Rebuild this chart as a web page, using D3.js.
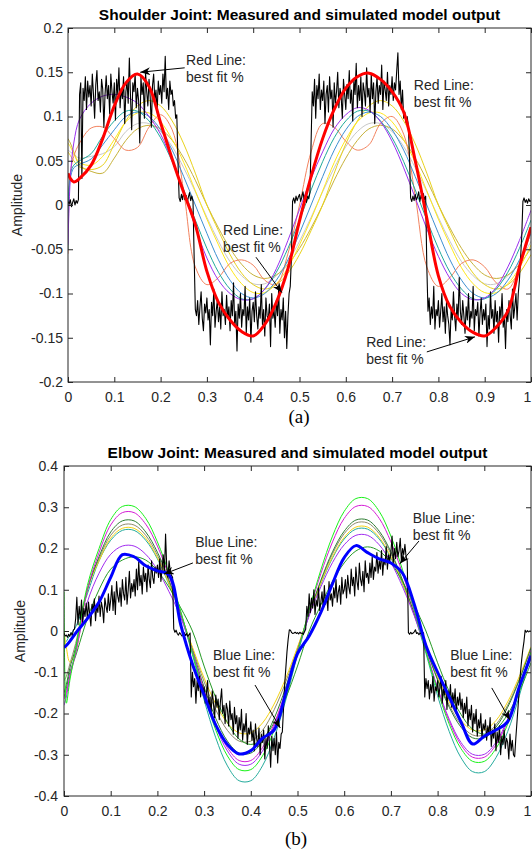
<!DOCTYPE html>
<html>
<head>
<meta charset="utf-8">
<script src="https://cdn.jsdelivr.net/npm/d3@7"></script>
<style>
  body { margin: 0; background: #fff; }
  svg text { font-family: "Liberation Sans", Arial, sans-serif; fill: #262626; }
</style>
</head>
<body>
<svg id="chart" width="532" height="853"></svg>
<script>
// ---- shared axis values ----
const timeTicks = [0, 0.1, 0.2, 0.3, 0.4, 0.5, 0.6, 0.7, 0.8, 0.9, 1];
const shoulderYTicks = [-0.2, -0.15, -0.1, -0.05, 0, 0.05, 0.1, 0.15, 0.2];
const elbowYTicks = [-0.4, -0.3, -0.2, -0.1, 0, 0.1, 0.2, 0.3, 0.4];

// time points of the simulated model outputs
const smoothT = [0, 0.005, 0.0125, 0.025, 0.05, 0.075, 0.1, 0.125, 0.15, 0.175, 0.2, 0.225, 0.25, 0.275, 0.3,
  0.325, 0.35, 0.375, 0.4, 0.425, 0.45, 0.475, 0.5, 0.525, 0.55, 0.575, 0.6, 0.625, 0.65, 0.675, 0.7,
  0.725, 0.75, 0.775, 0.8, 0.825, 0.85, 0.875, 0.9, 0.925, 0.95, 0.975, 1];

// ---- (a) shoulder joint ----
const shoulderRed = [.036, .030, .026, .030, .045, .075, .112, .138, .148, .134, .093, .052, .014, -.022, -.075, -.11, -.13, -.143, -.148, -.135, -.11, -.072, -.018,
  .032, .075, .108, .132, .145, .149, .142, .128, .105, .05, -.015, -.08, -.115, -.133, -.144, -.148, -.138, -.12, -.07, -.025];
const shoulderPurple = [-.045, .03, .07, .097, .115, .123, .125, .122, .115, .1, .08, .05, .015, -.025, -.06, -.085, -.1, -.107, -.106, -.095, -.072, -.04, -.005,
  .03, .06, .086, .102, .11, .107, .094, .072, .042, .008, -.027, -.058, -.083, -.1, -.107, -.105, -.093, -.07, -.04, -.006];
const shoulderTeal = [-.05, .035, .045, .05, .058, .078, .095, .106, .106, .095, .076, .049, .017, -.017, -.049, -.076, -.095, -.106, -.106, -.095, -.076, -.049, -.017,
  .017, .049, .076, .095, .106, .106, .095, .076, .049, .017, -.017, -.049, -.076, -.095, -.106, -.106, -.095, -.076, -.049, -.017];
const shoulderBlue = [0, .03, .042, .046, .052, .068, .085, .1, .105, .1, .085, .062, .032, 0, -.032, -.062, -.085, -.1, -.105, -.1, -.085, -.062, -.032,
  0, .032, .062, .085, .1, .105, .1, .085, .062, .032, 0, -.032, -.062, -.085, -.1, -.105, -.1, -.085, -.062, -.032];
const shoulderYellow = [.07, .066, .058, .048, .045, .055, .074, .094, .104, .104, .094, .074, .048, .016, -.016, -.045, -.071, -.089, -.099, -.099, -.089, -.071, -.045,
  -.016, .016, .048, .074, .094, .104, .104, .094, .074, .048, .016, -.016, -.045, -.071, -.089, -.099, -.099, -.089, -.071, -.045];
const shoulderGold = [.06, .056, .05, .043, .04, .045, .069, .095, .112, .118, .112, .095, .069, .036, 0, -.029, -.056, -.077, -.09, -.095, -.09, -.077, -.056,
  -.029, 0, .036, .069, .095, .112, .118, .112, .095, .069, .036, 0, -.029, -.056, -.077, -.09, -.095, -.09, -.077, -.056];
const shoulderOlive = [.075, .07, .06, .045, .038, .036, .053, .073, .086, .09, .086, .073, .053, .028, 0, -.026, -.049, -.067, -.079, -.083, -.079, -.067, -.049,
  -.026, 0, .028, .053, .073, .086, .09, .086, .073, .053, .028, 0, -.026, -.049, -.067, -.079, -.083, -.079, -.067, -.049];
const shoulderGray = [.062, .06, .057, .053, .055, .058, .066, .083, .092, .092, .083, .066, .042, .015, -.014, -.041, -.064, -.08, -.089, -.089, -.08, -.064, -.041,
  -.014, .015, .042, .066, .083, .092, .092, .083, .066, .042, .015, -.014, -.041, -.064, -.08, -.089, -.089, -.08, -.064, -.041];
const shoulderSalmon = [-.055, .035, .055, .07, .087, .088, .075, .062, .065, .088, .102, .085, .015, -.07, -.09, -.082, -.066, -.062, -.068, -.085, -.09, -.055, 0,
  .06, .092, .088, .072, .062, .068, .092, .1, .08, .01, -.07, -.092, -.082, -.066, -.062, -.07, -.088, -.095, -.07, -.03];

// measured shoulder signal, evenly spaced from t = 0 to t = 1
const shoulderMeasured = [
  .004, .001, .006, -.002, .003, .007, .000, .005, .002, .006, .125, .138, .03, .132, .118, .145, .108, .14, .122, .135,
  .112, .148, .125, .098, .136, .152, .118, .128, .105, .142, .131, .088, .125, .146, .12, .135, .103, .148, .128, .115,
  .138, .096, .142, .125, .155, .11, .132, .12, .145, .092, .128, .14, .115, .166, .122, .085, .138, .128, .148, .11,
  .132, .118, .07, .145, .125, .138, .098, .15, .128, .112, .142, .122, .088, .135, .148, .118, .13, .105, .14, .125,
  .135, .115, .148, .128, .168, .12, .132, .108, .14, .125, .13, .112, .118, .098, .102, .05, .008, .004, .012, .006,
  .015, .006, .011, .003, .009, .014, .005, .01, .004, -.06, -.118, -.125, -.108, -.135, -.115, -.098, -.128, -.142, -.112, -.122,
  -.105, -.13, -.118, -.158, -.11, -.125, -.095, -.138, -.12, -.108, -.132, -.115, -.14, -.098, -.125, -.118, -.135, -.102, -.128, -.115,
  -.142, -.108, -.125, -.088, -.135, -.12, -.165, -.112, -.128, -.1, -.138, -.118, -.125, -.092, -.145, -.115, -.13, -.105, -.155, -.12,
  -.11, -.132, -.098, -.125, -.14, -.115, -.128, -.09, -.135, -.118, -.148, -.105, -.125, -.13, -.112, -.16, -.1, -.128, -.118, -.138,
  -.108, -.125, -.095, -.145, -.118, -.13, -.105, -.15, -.12, -.162, -.125, -.1, -.092, -.06, .004, .008, .002, .01, .005, .009,
  .012, .004, .009, .015, .006, .011, .003, .01, .007, .014, .07, .128, .112, .142, .098, .135, .12, .148, .108, .13,
  .118, .14, .092, .125, .135, .105, .145, .12, .13, .088, .138, .115, .128, .15, .11, .132, .122, .098, .142, .125,
  .108, .136, .12, .152, .115, .13, .095, .142, .125, .16, .11, .135, .118, .145, .1, .138, .128, .112, .155, .122,
  .132, .105, .148, .12, .138, .092, .128, .145, .115, .135, .125, .158, .108, .14, .13, .118, .15, .112, .135, .125,
  .145, .118, .138, .13, .152, .172, .125, .14, .108, .13, .098, .105, .093, .1, .09, .055, .008, .004, .01, .005,
  .012, .006, .009, .015, .004, .011, .007, .013, .006, .01, -.07, -.12, -.105, -.135, -.115, -.128, -.092, -.14, -.118, -.125,
  -.108, -.138, -.12, -.1, -.132, -.115, -.145, -.11, -.125, -.135, -.158, -.118, -.13, -.098, -.125, -.142, -.112, -.128, -.082, -.12,
  -.135, -.108, -.125, -.145, -.115, -.13, -.1, -.138, -.12, -.128, -.092, -.142, -.118, -.125, -.11, -.148, -.122, -.105, -.135, -.118,
  -.13, -.112, -.16, -.125, -.14, -.098, -.128, -.118, -.145, -.108, -.132, -.12, -.155, -.115, -.128, -.1, -.138, -.125, -.162, -.118,
  -.132, -.108, -.125, -.14, -.095, -.128, -.115, -.1, -.13, -.1, -.085, -.06, -.035, .004, .008, .003, .006, .002, .007, .004,
  .005];

// ---- (b) elbow joint ----
const elbowBlue = [-.04, -.035, -.025, -.005, .03, .07, .13, .185, .18, .158, .146, .136, .015, -.08, -.155, -.228, -.275, -.298, -.29, -.26, -.24, -.15, -.055,
  -.012, .045, .115, .178, .207, .19, .175, .165, .14, .065, -.035, -.1, -.16, -.22, -.274, -.255, -.24, -.22, -.135, -.06];
const elbowGreen = [.095, -.175, -.12, -.045, .11, .2, .27, .302, .302, .273, .216, .139, .048, -.053, -.154, -.24, -.303, -.336, -.336, -.303, -.24, -.154, -.053,
  .051, .148, .23, .29, .321, .321, .29, .23, .148, .051, -.05, -.145, -.226, -.285, -.316, -.316, -.285, -.226, -.145, -.05];
const elbowMagenta = [-.165, -.15, -.11, -.055, .1, .19, .257, .287, .287, .259, .206, .132, .045, -.05, -.144, -.225, -.283, -.314, -.314, -.283, -.225, -.144, -.05,
  .048, .139, .216, .273, .302, .302, .273, .216, .139, .048, -.048, -.141, -.219, -.276, -.306, -.306, -.276, -.219, -.141, -.048];
const elbowDarkGreen = [-.15, -.13, -.09, -.04, .1, .18, .24, .267, .267, .24, .191, .123, .042, -.047, -.136, -.212, -.267, -.296, -.296, -.267, -.212, -.136, -.047,
  .042, .123, .192, .242, .269, .269, .242, .192, .123, .042, -.041, -.119, -.185, -.233, -.259, -.259, -.233, -.185, -.119, -.041];
const elbowKhaki = [-.12, -.11, -.08, -.03, .1, .175, .232, .257, .257, .232, .184, .118, .041, -.042, -.123, -.191, -.241, -.267, -.267, -.241, -.191, -.123, -.042,
  .041, .12, .187, .236, .262, .262, .236, .187, .12, .041, -.04, -.116, -.18, -.227, -.252, -.252, -.227, -.18, -.116, -.04];
const elbowYellow = [0, -.04, -.075, -.05, .1, .17, .225, .249, .249, .225, .178, .114, .039, -.039, -.114, -.177, -.223, -.247, -.247, -.223, -.177, -.114, -.039,
  .04, .116, .18, .227, .252, .252, .227, .18, .116, .04, -.038, -.11, -.172, -.217, -.24, -.24, -.217, -.172, -.11, -.038];
const elbowTeal = [-.03, -.025, -.01, .01, .09, .17, .22, .244, .244, .22, .175, .112, .039, -.057, -.167, -.259, -.327, -.363, -.363, -.327, -.259, -.167, -.057,
  .039, .114, .177, .223, .247, .247, .223, .177, .114, .039, -.054, -.157, -.244, -.307, -.341, -.341, -.307, -.244, -.157, -.054];
const elbowPurple = [-.18, -.16, -.11, -.05, .07, .14, .186, .206, .206, .186, .148, .095, .033, -.051, -.148, -.231, -.291, -.323, -.323, -.291, -.231, -.148, -.051,
  .037, .107, .166, .209, .232, .232, .209, .166, .107, .037, -.047, -.138, -.214, -.27, -.299, -.299, -.27, -.214, -.138, -.047];
const elbowForest = [-.16, -.14, -.1, -.06, .03, .1, .15, .172, .18, .172, .146, .106, .056, 0, -.085, -.162, -.222, -.262, -.275, -.262, -.222, -.162, -.085,
  0, .063, .12, .165, .194, .204, .194, .165, .12, .063, 0, -.077, -.147, -.202, -.238, -.25, -.238, -.202, -.147, -.077];

// measured elbow signal, evenly spaced from t = 0 to t = 1
const elbowMeasured = [
  -.005, -.012, -.01, -.015, -.008, -.013, -.004, -.011, .002, .005, .03, .082, .015, .06, .028, .075, .02, .055, .035, .068,
  .03, .07, .04, .012, .065, .05, .078, .025, .06, .045, .085, .035, .07, .055, .02, .08, .06, .045, .09, .05,
  .075, .11, .05, .095, .04, .12, .085, .07, .105, .06, .125, .09, .075, .13, .065, .1, .145, .08, .115, .095,
  .125, .085, .15, .1, .168, .11, .135, .09, .155, .12, .14, .095, .16, .125, .105, .17, .13, .115, .155, .14,
  .16, .13, .175, .12, .15, .185, .14, .235, .155, .13, .17, .145, .135, .13, .005, -.003, .002, -.006, -.01, -.004,
  -.008, -.012, -.01, -.004, -.011, -.006, -.013, -.009, -.005, -.16, -.1, -.135, -.115, -.175, -.12, -.145, -.11, -.16, -.13, -.15,
  -.135, -.175, -.15, -.12, -.19, -.16, -.2, -.145, -.175, -.21, -.155, -.185, -.165, -.215, -.17, -.14, -.2, -.18, -.225, -.175,
  -.19, -.23, -.17, -.215, -.2, -.25, -.185, -.225, -.205, -.26, -.21, -.24, -.19, -.265, -.225, -.245, -.2, -.275, -.235, -.25,
  -.22, -.265, -.24, -.29, -.225, -.26, -.28, -.235, -.3, -.25, -.27, -.24, -.31, -.26, -.285, -.23, -.275, -.33, -.255, -.29,
  -.26, -.3, -.245, -.32, -.27, -.285, -.25, -.245, -.19, -.13, -.09, -.05, -.02, .003, .002, -.004, -.006, -.005, -.003, -.006,
  -.004, -.007, -.003, -.006, -.005, -.008, -.002, .004, .06, .035, .09, .045, .08, .055, .1, .04, .075, .06, .105, .05,
  .07, .095, .055, .11, .065, .085, .05, .12, .075, .09, .06, .105, .08, .125, .07, .095, .11, .065, .13, .09,
  .1, .125, .08, .135, .105, .09, .15, .11, .13, .085, .155, .12, .1, .165, .125, .11, .145, .095, .17, .13,
  .14, .115, .165, .13, .18, .125, .155, .145, .19, .14, .17, .15, .195, .135, .175, .16, .205, .15, .185, .17,
  .19, .23, .165, .2, .175, .215, .18, .195, .225, .17, .2, .185, .21, .18, .17, -.004, -.008, -.003, -.007, -.005,
  -.002, .003, -.006, -.004, -.009, -.005, -.007, -.003, -.005, -.16, -.115, -.14, -.12, -.165, -.13, -.15, -.11, -.17, -.135, -.145,
  -.12, -.16, -.135, -.11, -.175, -.14, -.155, -.12, -.19, -.145, -.165, -.13, -.185, -.15, -.175, -.14, -.2, -.16, -.18, -.15,
  -.19, -.165, -.21, -.175, -.2, -.16, -.23, -.19, -.215, -.18, -.245, -.2, -.225, -.19, -.255, -.215, -.235, -.2, -.26, -.225,
  -.24, -.215, -.265, -.23, -.25, -.21, -.28, -.24, -.26, -.225, -.29, -.245, -.27, -.23, -.3, -.255, -.275, -.24, -.285, -.26,
  -.27, -.31, -.25, -.29, -.265, -.3, -.305, -.26, -.22, -.18, -.14, -.1, -.07, -.045, -.025, .002, -.003, .001, -.002, 0,
  -.001];

// annotations: text anchor and arrow ends in data units [t, amplitude]
const shoulderNoteText = ["Red Line:", "best fit %"];
const shoulderNotes = [
  { at: [0.255, 0.158], from: [0.252, 0.155], to: [0.156, 0.150] },
  { at: [0.747, 0.130] },
  { at: [0.335, -0.034], from: [0.406, -0.059], to: [0.462, -0.099] },
  { at: [0.644, -0.161], from: [0.775, -0.166], to: [0.879, -0.149] }
];
const elbowNoteText = ["Blue Line:", "best fit %"];
const elbowNotes = [
  { at: [0.281, 0.204], from: [0.276, 0.165], to: [0.214, 0.138] },
  { at: [0.747, 0.262], from: [0.760, 0.218], to: [0.719, 0.163] },
  { at: [0.319, -0.070], from: [0.409, -0.131], to: [0.463, -0.235] },
  { at: [0.827, -0.070], from: [0.916, -0.138], to: [0.955, -0.216] }
];

const svg = d3.select("#chart");

svg.append("defs").append("marker")
  .attr("id", "arrow")
  .attr("viewBox", "0 0 10 8")
  .attr("refX", 10).attr("refY", 4)
  .attr("markerWidth", 10).attr("markerHeight", 8)
  .attr("markerUnits", "userSpaceOnUse")
  .attr("orient", "auto")
  .append("path")
  .attr("d", "M0,0 L10,4 L0,8 L3,4 Z")
  .attr("fill", "#000");

function drawPanel(p) {
  const x = d3.scaleLinear().domain([0, 1]).range([p.left, p.right]);
  const y = d3.scaleLinear().domain(p.yDomain).range([p.bottom, p.top]);
  const g = svg.append("g");

  g.append("clipPath").attr("id", p.id + "-clip")
    .append("rect")
    .attr("x", p.left).attr("y", p.top)
    .attr("width", p.right - p.left).attr("height", p.bottom - p.top);

  const plot = g.append("g").attr("clip-path", `url(#${p.id}-clip)`);

  const smoothLine = d3.line()
    .curve(d3.curveCatmullRom.alpha(0.5))
    .x((d, i) => x(smoothT[i]))
    .y(d => y(d));

  p.models.forEach(m => {
    plot.append("path")
      .attr("d", smoothLine(m.values))
      .attr("fill", "none")
      .attr("stroke", m.color)
      .attr("stroke-width", 1);
  });

  const n = p.measured.length;
  plot.append("path")
    .attr("d", d3.line().x((d, i) => x(i / (n - 1))).y(d => y(d))(p.measured))
    .attr("fill", "none")
    .attr("stroke", "#000")
    .attr("stroke-width", 1.1)
    .attr("stroke-linejoin", "round");

  plot.append("path")
    .attr("d", smoothLine(p.best.values))
    .attr("fill", "none")
    .attr("stroke", p.best.color)
    .attr("stroke-width", 3)
    .attr("stroke-linejoin", "round");

  // axes with inward ticks on all four sides
  const tick = 5;
  const styleAxis = a => {
    a.select(".domain").remove();
    a.attr("font-family", null).attr("font-size", null);
    a.selectAll("line").attr("stroke", "#262626");
    a.selectAll("text").style("font-size", "14px").attr("fill", "#262626");
  };

  g.append("g")
    .attr("transform", `translate(0,${p.bottom})`)
    .call(d3.axisBottom(x).tickValues(timeTicks).tickFormat(d => String(d))
      .tickSizeInner(-tick).tickSizeOuter(0).tickPadding(10))
    .call(styleAxis)
    .call(a => a.selectAll("text").filter(d => d === 1).attr("dx", -4));
  g.append("g")
    .attr("transform", `translate(0,${p.top})`)
    .call(d3.axisTop(x).tickValues(timeTicks).tickFormat("")
      .tickSizeInner(-tick).tickSizeOuter(0))
    .call(styleAxis);
  g.append("g")
    .attr("transform", `translate(${p.left},0)`)
    .call(d3.axisLeft(y).tickValues(p.yTicks).tickFormat(d => String(d))
      .tickSizeInner(-tick).tickSizeOuter(0).tickPadding(p.yPad))
    .call(styleAxis);
  g.append("g")
    .attr("transform", `translate(${p.right},0)`)
    .call(d3.axisRight(y).tickValues(p.yTicks).tickFormat("")
      .tickSizeInner(-tick).tickSizeOuter(0))
    .call(styleAxis);

  g.append("rect")
    .attr("x", p.left).attr("y", p.top)
    .attr("width", p.right - p.left).attr("height", p.bottom - p.top)
    .attr("fill", "none")
    .attr("stroke", "#262626")
    .attr("stroke-width", 1);

  g.append("text")
    .attr("x", (p.left + p.right) / 2)
    .attr("y", p.top - 8)
    .attr("text-anchor", "middle")
    .style("font-size", "15.5px")
    .style("font-weight", "bold")
    .style("fill", "#000")
    .text(p.title);

  g.append("text")
    .attr("transform", `translate(${p.labelX},${(p.top + p.bottom) / 2}) rotate(-90)`)
    .attr("text-anchor", "middle")
    .style("font-size", "14px")
    .text("Amplitude");

  p.notes.forEach(note => {
    const t = g.append("text")
      .attr("x", x(note.at[0]))
      .attr("y", y(note.at[1]))
      .style("font-size", "14px");
    t.append("tspan").text(p.noteText[0]);
    t.append("tspan").attr("x", x(note.at[0])).attr("dy", 17).text(p.noteText[1]);
    if (note.from) {
      g.append("line")
        .attr("x1", x(note.from[0])).attr("y1", y(note.from[1]))
        .attr("x2", x(note.to[0])).attr("y2", y(note.to[1]))
        .attr("stroke", "#000")
        .attr("stroke-width", 1)
        .attr("marker-end", "url(#arrow)");
    }
  });

  g.append("text")
    .attr("x", p.captionX)
    .attr("y", p.captionY)
    .attr("text-anchor", "middle")
    .style("font-family", "'Liberation Serif', 'Times New Roman', serif")
    .style("font-size", "19px")
    .style("fill", "#000")
    .text(p.caption);
}

drawPanel({
  id: "shoulder",
  left: 68, right: 531, top: 28, bottom: 382,
  yDomain: [-0.2, 0.2], yTicks: shoulderYTicks, yPad: 5,
  title: "Shoulder Joint: Measured and simulated model output",
  labelX: 22,
  measured: shoulderMeasured,
  models: [
    { values: shoulderGray, color: "#c8c8c8" },
    { values: shoulderOlive, color: "#c7b23a" },
    { values: shoulderGold, color: "#e9d21c" },
    { values: shoulderYellow, color: "#ffe81a" },
    { values: shoulderSalmon, color: "#f3835f" },
    { values: shoulderBlue, color: "#3d8fd1" },
    { values: shoulderTeal, color: "#1fa99b" },
    { values: shoulderPurple, color: "#9b30f0" }
  ],
  best: { values: shoulderRed, color: "#ff0000" },
  notes: shoulderNotes, noteText: shoulderNoteText,
  caption: "(a)", captionX: 299, captionY: 423
});

drawPanel({
  id: "elbow",
  left: 64, right: 531, top: 466, bottom: 796,
  yDomain: [-0.4, 0.4], yTicks: elbowYTicks, yPad: 6,
  title: "Elbow Joint: Measured and simulated model output",
  labelX: 25,
  measured: elbowMeasured,
  models: [
    { values: elbowTeal, color: "#23ab9c" },
    { values: elbowKhaki, color: "#8e8a6a" },
    { values: elbowYellow, color: "#f5d415" },
    { values: elbowForest, color: "#249a24" },
    { values: elbowDarkGreen, color: "#2d7d32" },
    { values: elbowPurple, color: "#a12cf0" },
    { values: elbowMagenta, color: "#d51ad5" },
    { values: elbowGreen, color: "#19f219" }
  ],
  best: { values: elbowBlue, color: "#0000ff" },
  notes: elbowNotes, noteText: elbowNoteText,
  caption: "(b)", captionX: 296, captionY: 845
});
</script>
</body>
</html>
